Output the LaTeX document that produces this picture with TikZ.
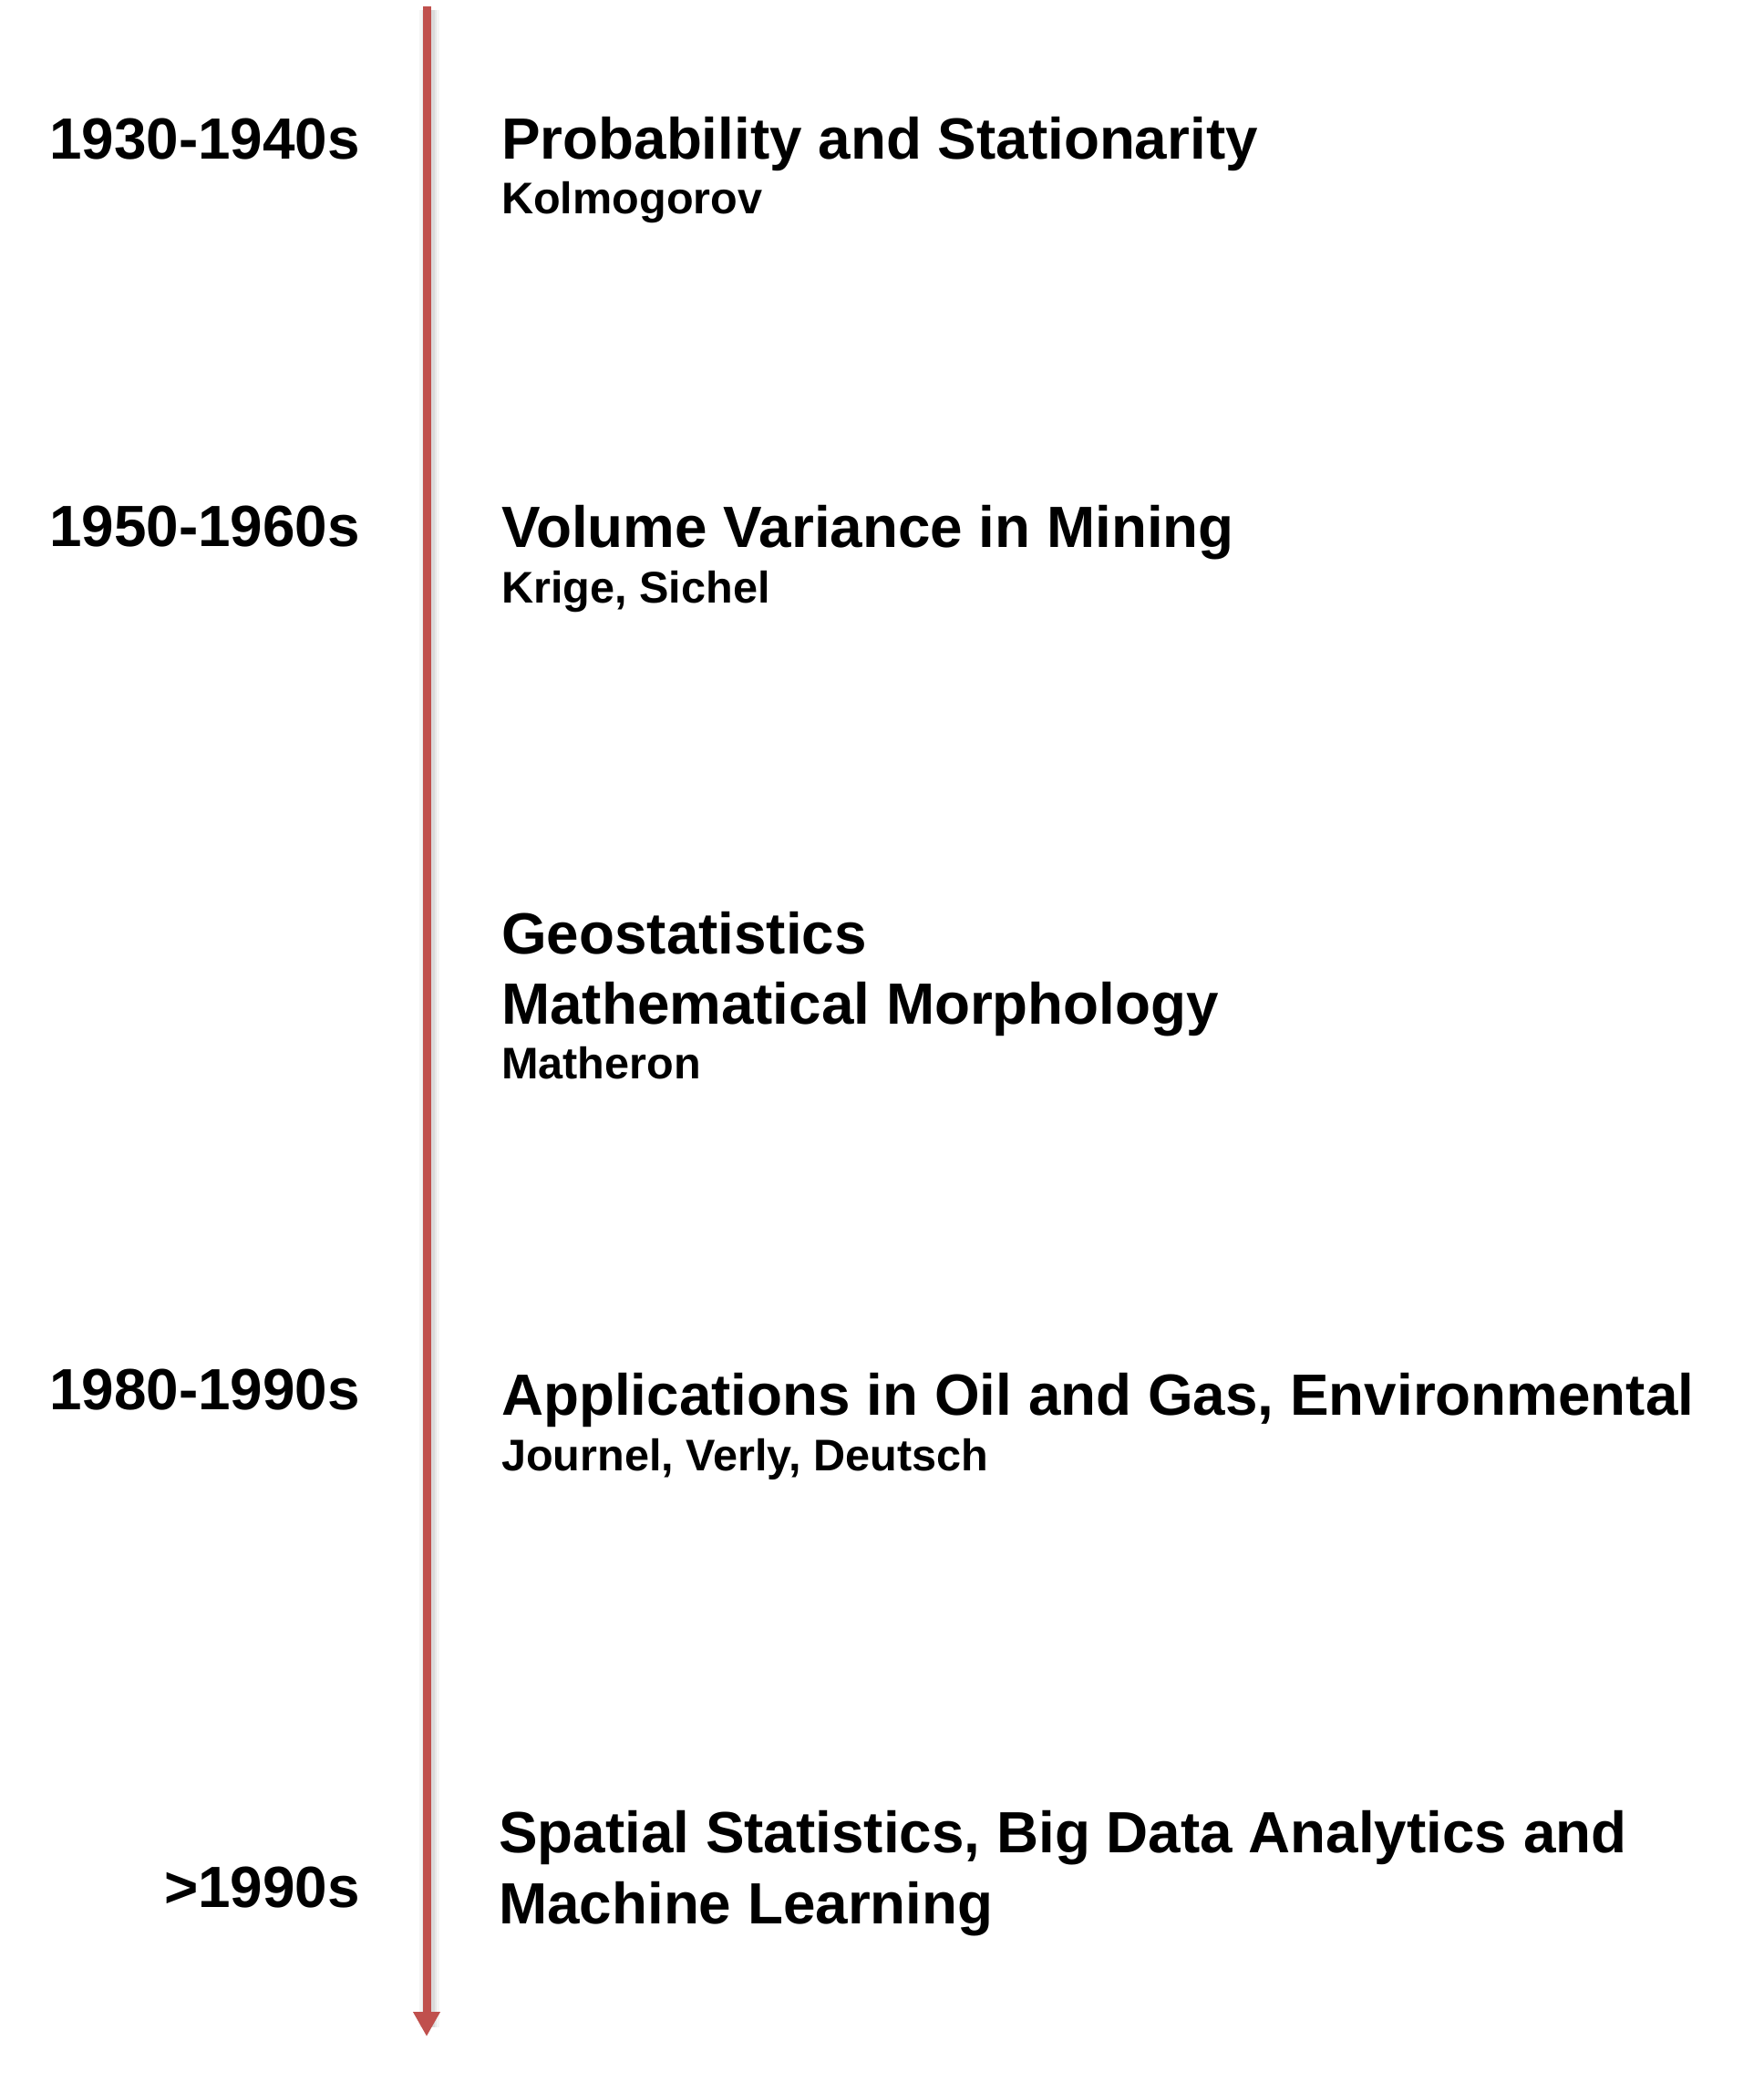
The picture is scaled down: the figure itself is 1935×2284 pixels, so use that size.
\documentclass[tikz,border=0pt]{standalone}
\usepackage{fontspec}
\setmainfont{Liberation Sans}
\usetikzlibrary{arrows.meta}
\definecolor{tlred}{HTML}{C0504D}
\tikzset{
  big/.style={font=\bfseries\fontsize{63.8}{72}\selectfont, inner sep=0pt, text=black},
  small/.style={font=\bfseries\fontsize{48.6}{56}\selectfont, inner sep=0pt, text=black},
  yearlbl/.style={big, anchor=base east},
  titlelbl/.style={big, anchor=base west},
  sublbl/.style={small, anchor=base west},
}
\begin{document}
\begin{tikzpicture}[x=1pt,y=-1pt]
\useasboundingbox (0,0) rectangle (1935,2284);
\fill[white] (0,0) rectangle (1935,2284);
% axis
\coordinate (top) at (468,7);
\coordinate (bot) at (468,2234);
\foreach \w/\o in {22/0.04,16/0.05,12/0.06}{
  \draw[line width=\w pt, black, opacity=\o] ([shift={(3,4)}]top) -- ([shift={(3,-10)}]bot);
}
\draw[line width=9pt, tlred, -{Triangle[length=27pt,width=28pt]}] (top) -- (bot);
% years
\node[yearlbl] (y1) at (395,174) {1930-1940s};
\node[yearlbl] (y2) at (395,599) {1950-1960s};
\node[yearlbl] (y3) at (395,1546) {1980-1990s};
\node[yearlbl] (y4) at (395,2092) {>1990s};
% titles
\node[titlelbl] (t1) at (550,174) {Probability and Stationarity};
\node[sublbl] (s1) at (550,234) {Kolmogorov};
\node[titlelbl] (t2) at (550,600) {Volume Variance in Mining};
\node[sublbl] (s2) at (550,661) {Krige, Sichel};
\node[titlelbl] (t3a) at (550,1046) {Geostatistics};
\node[titlelbl] (t3b) at (550,1123) {Mathematical Morphology};
\node[sublbl] (s3) at (550,1183) {Matheron};
\node[titlelbl] (t4) at (550,1552) {Applications in Oil and Gas, Environmental};
\node[sublbl] (s4) at (550,1613) {Journel, Verly, Deutsch};
\node[titlelbl] (t5a) at (547,2032) {Spatial Statistics, Big Data Analytics and};
\node[titlelbl] (t5b) at (547,2110) {Machine Learning};
\end{tikzpicture}
\end{document}
